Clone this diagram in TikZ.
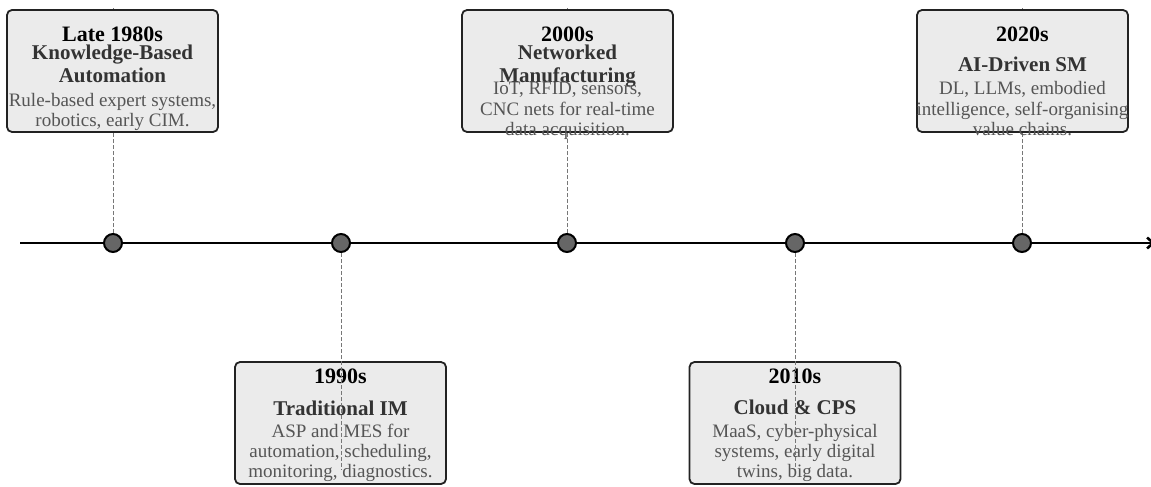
\documentclass[tikz,border=0pt]{standalone}
\usepackage{fontspec}
\setmainfont{Liberation Serif}
\usepackage{xcolor}
\usetikzlibrary{arrows.meta, positioning}

\definecolor{boxfill}{HTML}{EBEBEB}
\definecolor{boxedge}{HTML}{222222}
\definecolor{titlegray}{HTML}{333333}
\definecolor{bodygray}{HTML}{555555}
\definecolor{dotfill}{HTML}{666666}
\definecolor{stemgray}{HTML}{777777}

\tikzset{
  era/.style={draw=boxedge, fill=boxfill, line width=1.8pt, rounded corners=5pt,
    minimum width=211pt, minimum height=122pt, inner sep=0pt},
  yeartext/.style={anchor=base, inner sep=0pt, font=\fontsize{22}{24}\selectfont\bfseries, text=black},
  titletext/.style={anchor=base, inner sep=0pt, align=center,
    font=\fontsize{21}{23}\selectfont\bfseries, text=titlegray},
  bodytext/.style={anchor=base, inner sep=0pt, align=center,
    font=\fontsize{19}{20}\selectfont, text=bodygray},
  mark dot/.style={circle, draw=black, fill=dotfill, line width=2pt,
    minimum size=18pt, inner sep=0pt},
  stem/.style={stemgray, line width=1pt, dash pattern=on 4pt off 2pt}
}

\begin{document}
\begin{tikzpicture}[x=1pt, y=-1pt]
  \useasboundingbox (0,0) rectangle (1151,487);

  % time axis
  \coordinate (axisL) at (20,243);
  \coordinate (axisR) at (1155,243);
  \draw[line width=2.6pt, -{Straight Barb[length=6pt, width=11pt]}] (axisL) -- (axisR);

  % markers on the axis
  \node[mark dot] (d1) at (113,243) {};
  \node[mark dot] (d2) at (341,243) {};
  \node[mark dot] (d3) at (567,243) {};
  \node[mark dot] (d4) at (795,243) {};
  \node[mark dot] (d5) at (1022,243) {};

  % upper eras: stem first, box on top
  \draw[stem] (d1.north) -- ++(0,-225);
  \draw[stem] (d3.north) -- ++(0,-225);
  \draw[stem] (d5.north) -- ++(0,-225);

  \node[era] (b1) at (112.5,71) {};
  \node[era] (b3) at (567.5,71) {};
  \node[era] (b5) at (1022.5,71) {};

  % multi-line texts sit on the baseline of their last line
  \node[yeartext]  (y1) at (112.5,42)  {Late 1980s};
  \node[titletext] (t1) at (112.5,82)  {Knowledge-Based\\Automation};
  \node[bodytext]  (p1) at (112.5,126) {Rule-based expert systems,\\robotics, early CIM.};

  \node[yeartext]  (y3) at (567.5,42)  {2000s};
  \node[titletext] (t3) at (567.5,82)  {Networked\\Manufacturing};
  \node[bodytext]  (p3) at (567.5,135) {IoT, RFID, sensors,\\CNC nets for real-time\\data acquisition.};

  \node[yeartext]  (y5) at (1022.5,42) {2020s};
  \node[titletext] (t5) at (1022.5,72) {AI-Driven SM};
  \node[bodytext]  (p5) at (1022.5,135) {DL, LLMs, embodied\\intelligence, self-organising\\value chains.};

  % lower eras: box first, stem on top
  \node[era] (b2) at (340.5,423) {};
  \node[era] (b4) at (795,423) {};

  \node[yeartext]  (y2) at (340.5,383) {1990s};
  \node[titletext] (t2) at (340.5,415) {Traditional IM};
  \node[bodytext]  (p2) at (340.5,477) {ASP and MES for\\automation, scheduling,\\monitoring, diagnostics.};

  \node[yeartext]  (y4) at (795,383) {2010s};
  \node[titletext] (t4) at (795,414) {Cloud \& CPS};
  \node[bodytext]  (p4) at (795,477) {MaaS, cyber-physical\\systems, early digital\\twins, big data.};

  \coordinate (e2) at (341,470);
  \coordinate (e4) at (795,470);
  \draw[stem] (d2.south) -- (e2);
  \draw[stem] (d4.south) -- (e4);
\end{tikzpicture}
\end{document}
